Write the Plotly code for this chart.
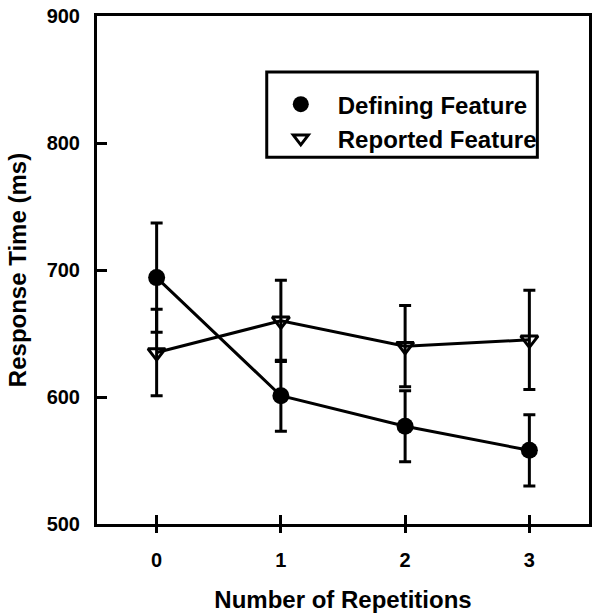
import plotly.graph_objects as go

reps = [0, 1, 2, 3]
defining_rt = [694, 601, 577, 558]
defining_err = [43, 28, 28, 28]
reported_rt = [635, 660, 640, 645]
reported_err = [34, 32, 32, 39]

FONT = "Liberation Sans, Arial, sans-serif"

fig = go.Figure()

fig.add_trace(go.Scatter(
    x=reps, y=reported_rt, mode="lines+markers", showlegend=False,
    line=dict(color="black", width=3),
    marker=dict(symbol="triangle-down-open", size=15, color="black", line=dict(width=3)),
    error_y=dict(type="data", array=reported_err, color="black", thickness=3, width=6),
))
fig.add_trace(go.Scatter(
    x=reps, y=defining_rt, mode="lines+markers", showlegend=False,
    line=dict(color="black", width=3),
    marker=dict(symbol="circle", size=17, color="black"),
    error_y=dict(type="data", array=defining_err, color="black", thickness=3, width=6),
))
# legend entries
fig.add_trace(go.Scatter(
    x=[None], y=[None], mode="markers", name="Defining Feature",
    marker=dict(symbol="circle", size=17, color="black"),
))
fig.add_trace(go.Scatter(
    x=[None], y=[None], mode="markers", name="Reported Feature",
    marker=dict(symbol="triangle-down-open", size=13, color="black", line=dict(width=3)),
))
# overlay axis to get crossing ticks on x
fig.add_trace(go.Scatter(x=[None], y=[None], xaxis="x2", showlegend=False))

# legend frame
fig.add_shape(type="rect", xref="paper", yref="paper",
              x0=0.345, x1=0.895, y0=0.722, y1=0.89,
              line=dict(color="black", width=3), fillcolor="rgba(0,0,0,0)", layer="above")

fig.update_layout(
    width=595, height=616,
    margin=dict(l=97, r=3, t=16, b=92),
    paper_bgcolor="white", plot_bgcolor="white",
    font=dict(family=FONT, color="black", size=20),
    showlegend=True,
    legend=dict(
        x=0.339, y=0.870, xanchor="left", yanchor="top",
        borderwidth=0, bgcolor="rgba(0,0,0,0)",
        font=dict(family=FONT, size=24, color="black", weight="bold"),
        tracegroupgap=0, itemwidth=64,
    ),
    xaxis=dict(
        range=[-0.48, 3.48], tickvals=reps, ticktext=[str(r) for r in reps],
        ticks="inside", ticklen=9, tickwidth=3, tickcolor="black",
        showline=True, linewidth=3, linecolor="black", mirror=True,
        showgrid=False, zeroline=False, ticklabelstandoff=16,
        tickfont=dict(family=FONT, size=20, color="black", weight="bold"),
        title=dict(text="Number of Repetitions", standoff=22,
                   font=dict(family=FONT, size=24, color="black", weight="bold")),
    ),
    xaxis2=dict(
        overlaying="x", side="bottom", anchor="y", range=[-0.48, 3.48],
        tickvals=reps, showticklabels=False,
        ticks="outside", ticklen=8, tickwidth=3, tickcolor="black",
        showline=False, showgrid=False, zeroline=False,
    ),
    yaxis=dict(
        range=[500, 900], tickvals=[500, 600, 700, 800, 900],
        ticks="inside", ticklen=10, tickwidth=3, tickcolor="black",
        showline=True, linewidth=3, linecolor="black", mirror=True,
        showgrid=False, zeroline=False, ticklabelstandoff=10,
        tickfont=dict(family=FONT, size=20, color="black", weight="bold"),
        title=dict(text="Response Time (ms)", standoff=14,
                   font=dict(family=FONT, size=24, color="black", weight="bold")),
    ),
)

fig.write_html("out.html")
